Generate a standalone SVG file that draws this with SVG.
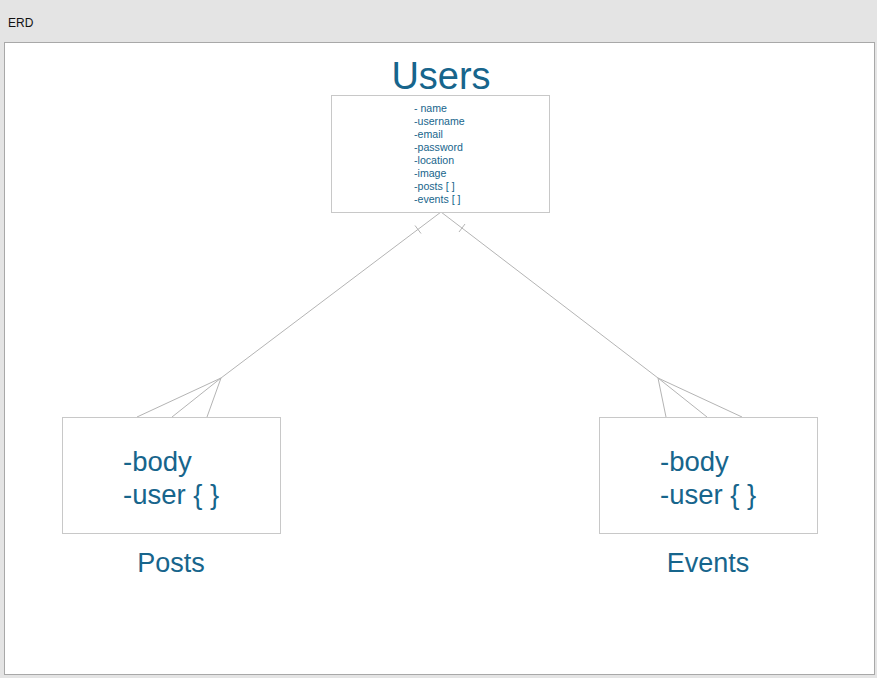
<svg xmlns="http://www.w3.org/2000/svg" width="877" height="678" viewBox="0 0 877 678">
<style>
.t{font-family:"Helvetica Neue","Liberation Sans",Arial,sans-serif;fill:#17658c}
.box{fill:#fff;stroke:#c8c8c8;stroke-width:1}
.ln{stroke:#b4b4b4;stroke-width:1;fill:none}
.attr{font-size:10.6px}
.big{font-size:27.5px}
.lbl{font-size:27px}
</style>
<rect x="0" y="0" width="877" height="678" fill="#e4e4e4"/>
<text x="8" y="27" font-family="'Liberation Sans',Arial,sans-serif" font-size="12" fill="#111">ERD</text>
<rect x="4.5" y="42.5" width="870" height="632" fill="#fff" stroke="#a8a8a8" stroke-width="1"/>
<g id="connectors">
  <path class="ln" d="M441,212 L221,378 M221,378 L137,417 M221,378 L172,417 M221,378 L207,417 M415,225.5 L421,233.5"/>
  <path class="ln" d="M441,212 L658,378 M658,378 L666,417 M658,378 L707,417 M658,378 L742,417 M465,224 L459,232"/>
</g>
<g id="users">
  <text class="t" x="441" y="89" font-size="38" text-anchor="middle">Users</text>
  <rect class="box" x="331.5" y="95.5" width="218" height="117"/>
  <text class="t attr" x="414" y="112">- name</text>
  <text class="t attr" x="414" y="125">-username</text>
  <text class="t attr" x="414" y="138">-email</text>
  <text class="t attr" x="414" y="151">-password</text>
  <text class="t attr" x="414" y="164">-location</text>
  <text class="t attr" x="414" y="177">-image</text>
  <text class="t attr" x="414" y="190">-posts [ ]</text>
  <text class="t attr" x="414" y="203">-events [ ]</text>
</g>
<g id="posts">
  <rect class="box" x="62.5" y="417.5" width="218" height="116"/>
  <text class="t big" x="123" y="471">-body</text>
  <text class="t big" x="123" y="504">-user { }</text>
  <text class="t lbl" x="171" y="572" text-anchor="middle">Posts</text>
</g>
<g id="events">
  <rect class="box" x="599.5" y="417.5" width="218" height="116"/>
  <text class="t big" x="660" y="471">-body</text>
  <text class="t big" x="660" y="504">-user { }</text>
  <text class="t lbl" x="708" y="572" text-anchor="middle">Events</text>
</g>
</svg>
